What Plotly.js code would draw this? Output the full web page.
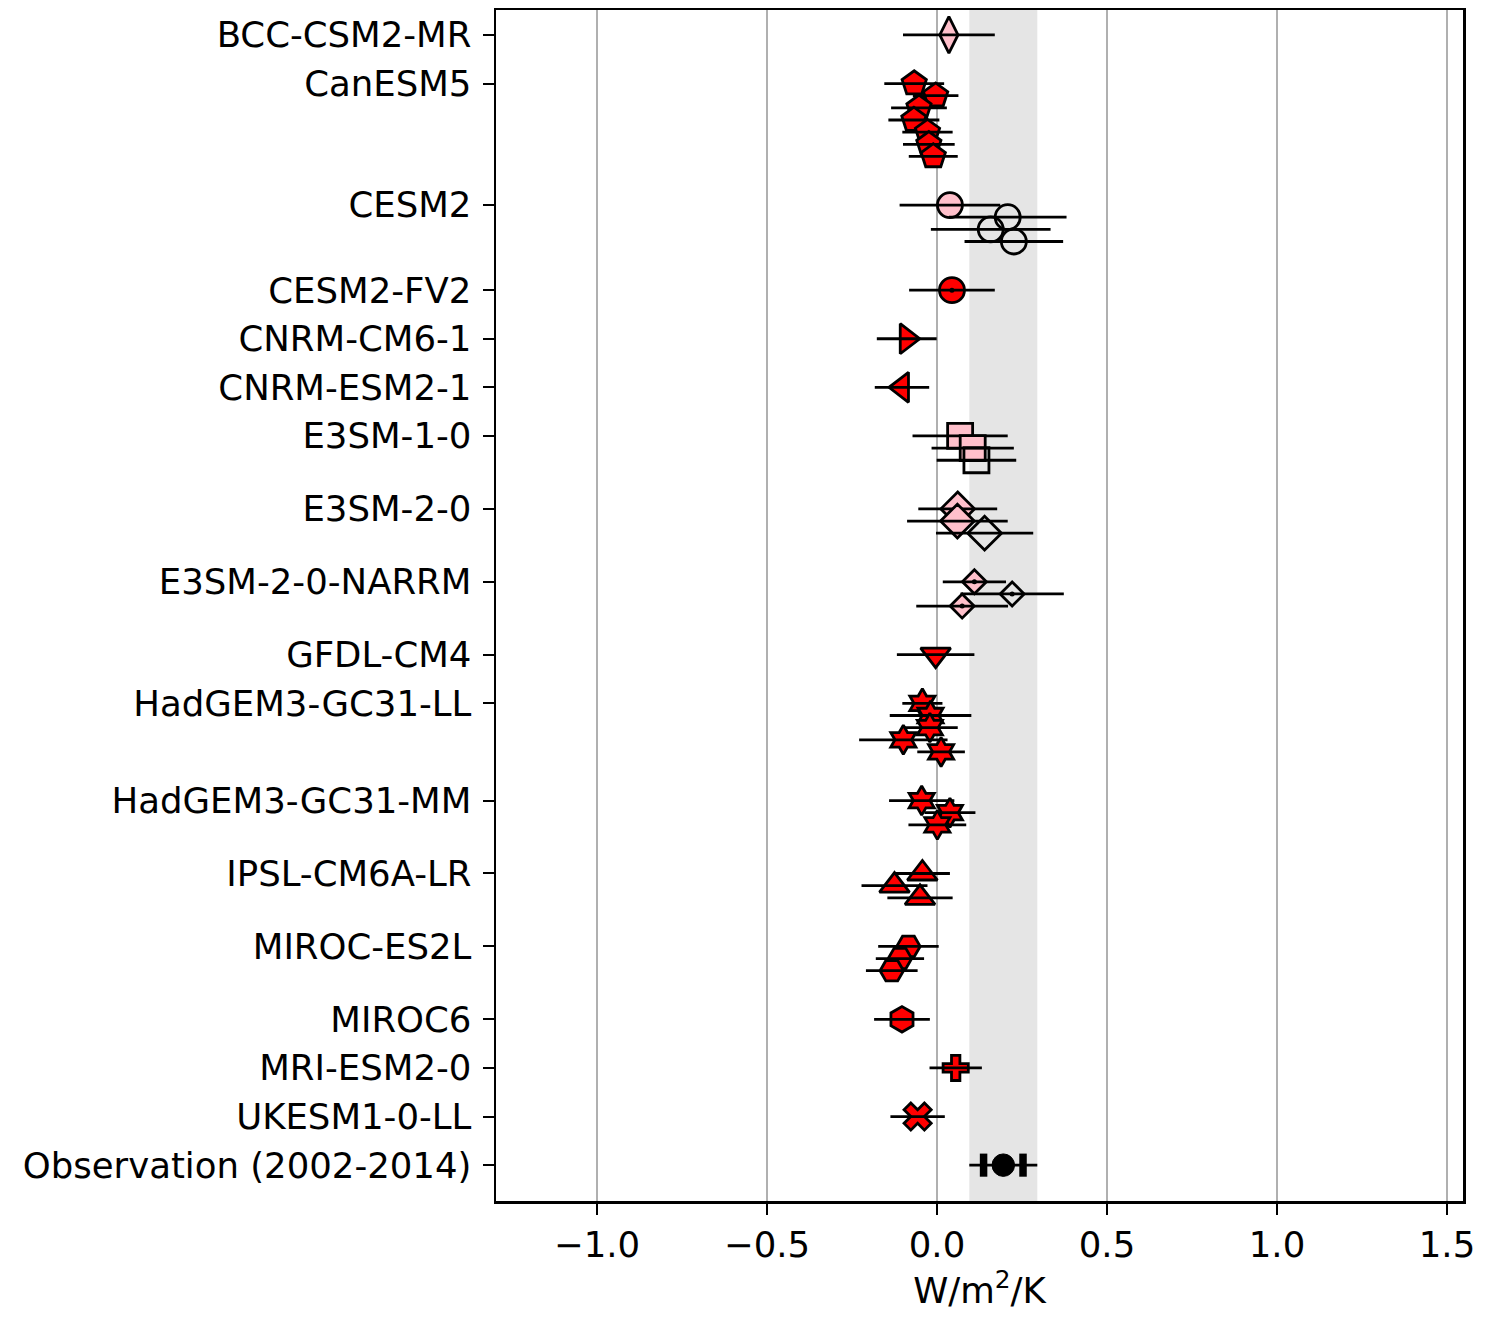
<!DOCTYPE html>
<html><head><meta charset="utf-8">
<script src="https://cdn.plot.ly/plotly-3.0.1.min.js"></script>
<style>body{margin:0;background:#fff}</style>
</head><body><div id="chart" style="width:1486px;height:1319px"></div>
<script>
// ---------------- DATA ----------------
const models = ['BCC-CSM2-MR','CanESM5','CESM2','CESM2-FV2','CNRM-CM6-1','CNRM-ESM2-1',
  'E3SM-1-0','E3SM-2-0','E3SM-2-0-NARRM','GFDL-CM4','HadGEM3-GC31-LL','HadGEM3-GC31-MM',
  'IPSL-CM6A-LR','MIROC-ES2L','MIROC6','MRI-ESM2-0','UKESM1-0-LL'];
const memberValues = [
  [0.035],
  [-0.067,-0.004,-0.053,-0.068,-0.028,-0.024,-0.011],
  [0.038,0.208,0.158,0.226],
  [0.044],
  [-0.089],
  [-0.103],
  [0.068,0.105,0.116],
  [0.061,0.060,0.140],
  [0.110,0.221,0.074],
  [-0.004],
  [-0.043,-0.019,-0.021,-0.099,0.012],
  [-0.045,0.038,0.001],
  [-0.043,-0.125,-0.050],
  [-0.084,-0.109,-0.133],
  [-0.103],
  [0.055],
  [-0.057]
];
const memberErrors = [
  [0.135],
  [0.088,0.067,0.082,0.075,0.074,0.076,0.072],
  [0.148,0.173,0.176,0.145],
  [0.126],
  [0.088],
  [0.080],
  [0.140,0.121,0.117],
  [0.116,0.148,0.143],
  [0.093,0.152,0.135],
  [0.114],
  [0.059,0.120,0.082,0.130,0.070],
  [0.096,0.075,0.085],
  [0.081,0.097,0.096],
  [0.089,0.071,0.076],
  [0.082],
  [0.077],
  [0.080]
];
const obsLabel = 'Observation (2002-2014)';
const obsValue = 0.195;
const obsErrInner = 0.058;
const obsErrOuter = 0.10;
const xTickVals = [-1.0,-0.5,0.0,0.5,1.0,1.5];
const xTickText = ['\u22121.0','\u22120.5','0.0','0.5','1.0','1.5'];
const xTitle = 'W/m<sup>2</sup>/K';

// ---------------- STYLE ----------------
const R='red', P='pink', O='rgba(0,0,0,0)';
const memberFills = [
  [P],[R,R,R,R,R,R,R],[P,O,O,O],[R],[R],[R],[P,P,O],[P,P,O],[P,O,P],[R],
  [R,R,R,R,R],[R,R,R],[R,R,R],[R,R,R],[R],[R],[R]
];
const symbols = ['diamond-tall','pentagon','circle','circle','triangle-right','triangle-left',
  'square','diamond','diamond','triangle-down','hexagram','hexagram','triangle-up',
  'hexagon2','hexagon','cross','x'];
const sizes = [26,25.5,25,25,26,26,25,26,18.5,26,22,22,26,23.5,25.5,21,24];
const centerDot = [false,false,false,true,false,false,false,false,true,false,false,false,false,false,false,false,false];
const FONT = 'DejaVu Sans, Liberation Sans, sans-serif';
const FS = 35.5;
const EDGE = 2.8;

// ---------------- BUILD ----------------
const positions = [];
let p = 0;
models.forEach((m,i)=>{ positions.push(p); p += memberValues[i].length - 1 + 4; });
const obsPos = p;

const traces = [];
models.forEach((m,i)=>{
  memberValues[i].forEach((v,j)=>{
    const y = positions[i] + j;
    traces.push({type:'scatter', mode:'markers', x:[v], y:[y], hoverinfo:'skip',
      marker:{symbol:symbols[i], size:sizes[i], color:memberFills[i][j], line:{color:'black', width:EDGE}}});
    traces.push({type:'scatter', mode:'markers', x:[v], y:[y], hoverinfo:'skip',
      marker:{size:1, opacity:0},
      error_x:{type:'data', array:[memberErrors[i][j]], color:'black', thickness:2.8, width:0}});
    if (centerDot[i]) {
      traces.push({type:'scatter', mode:'markers', x:[v], y:[y], hoverinfo:'skip',
        marker:{symbol:'circle', size:5, color:'black'}});
    }
  });
});
// observation
traces.push({type:'scatter', mode:'markers', x:[obsValue], y:[obsPos], hoverinfo:'skip',
  marker:{symbol:'circle', size:22.5, color:'black', line:{color:'black', width:1}},
  error_x:{type:'data', array:[obsErrOuter], color:'black', thickness:2.8, width:0}});
traces.push({type:'scatter', mode:'markers', x:[obsValue-obsErrInner, obsValue+obsErrInner], y:[obsPos,obsPos],
  hoverinfo:'skip', marker:{symbol:'line-ns', size:16.5, color:'black', line:{color:'black', width:7.5}}});

const tickVals = positions.concat([obsPos]);
const tickText = models.concat([obsLabel]);

const layout = {
  width:1486, height:1319,
  margin:{l:496, r:23, t:10, b:118},
  paper_bgcolor:'white', plot_bgcolor:'white',
  showlegend:false, hovermode:false,
  font:{family:FONT, size:FS, color:'black'},
  xaxis:{range:[-1.297,1.547], tickvals:xTickVals, ticktext:xTickText,
    showgrid:true, gridcolor:'#b0b0b0', gridwidth:1.5, zeroline:false,
    showline:true, mirror:true, linecolor:'black', linewidth:2.5,
    ticks:'outside', ticklen:11, tickwidth:2, tickcolor:'black',
    tickfont:{family:FONT, size:FS, color:'black'},
    title:{text:xTitle, font:{family:FONT, size:FS, color:'black'}, standoff:12}},
  yaxis:{range:[95.95,-2.05], tickvals:tickVals, ticktext:tickText,
    showgrid:false, zeroline:false,
    showline:true, mirror:true, linecolor:'black', linewidth:2.5,
    ticks:'outside', ticklen:11, tickwidth:2, tickcolor:'black', ticklabelstandoff:4,
    tickfont:{family:FONT, size:FS, color:'black'}},
  shapes:[{type:'rect', xref:'x', yref:'paper', x0:obsValue-obsErrOuter, x1:obsValue+obsErrOuter,
    y0:0, y1:1, fillcolor:'#e5e5e5', line:{width:0}, layer:'below'}]
};
Plotly.newPlot('chart', traces, layout, {displayModeBar:false, staticPlot:true});
</script></body></html>
